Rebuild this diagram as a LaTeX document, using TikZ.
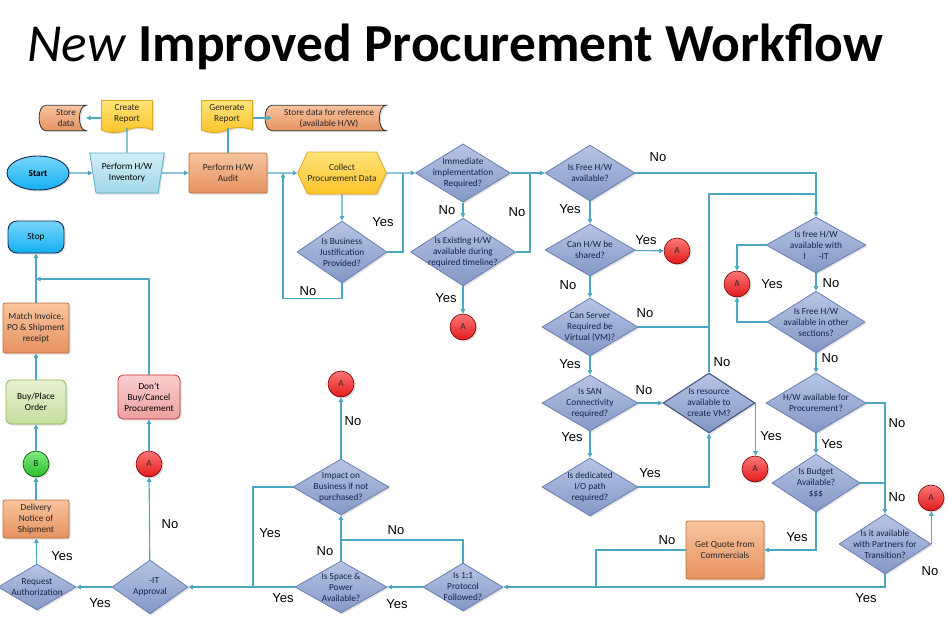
\documentclass[tikz,border=0pt]{standalone}
\usepackage{fontspec}
\setmainfont{Carlito}
\newfontfamily\labelfont{Liberation Sans}
\usetikzlibrary{shapes.geometric,shapes.symbols,arrows.meta,shadows,backgrounds}

\definecolor{lineteal}{RGB}{75,168,192}
\definecolor{diatop}{RGB}{182,196,228}
\definecolor{diabot}{RGB}{132,152,198}
\definecolor{diaedge}{RGB}{105,128,180}
\definecolor{diatext}{RGB}{25,35,75}
\definecolor{orangetop}{RGB}{248,196,158}
\definecolor{orangebot}{RGB}{230,146,96}
\definecolor{orangeedge}{RGB}{188,112,62}
\definecolor{yellowtop}{RGB}{255,228,120}
\definecolor{yellowbot}{RGB}{252,196,40}
\definecolor{yellowedge}{RGB}{222,168,30}
\definecolor{termtop}{RGB}{120,215,252}
\definecolor{termbot}{RGB}{20,175,240}
\definecolor{termedge}{RGB}{20,40,80}
\definecolor{invtop}{RGB}{210,238,246}
\definecolor{invbot}{RGB}{160,214,232}
\definecolor{invedge}{RGB}{90,170,200}
\definecolor{redtop}{RGB}{255,120,120}
\definecolor{redbot}{RGB}{225,25,25}
\definecolor{greentop}{RGB}{130,235,130}
\definecolor{greenbot}{RGB}{40,190,40}
\definecolor{buytop}{RGB}{232,242,210}
\definecolor{buybot}{RGB}{200,222,160}
\definecolor{buyedge}{RGB}{140,180,80}
\definecolor{canceltop}{RGB}{250,206,206}
\definecolor{cancelbot}{RGB}{238,160,160}
\definecolor{canceledge}{RGB}{200,50,50}

\tikzset{
  x=1pt, y=-1pt,
  every node/.style={font=\fontsize{9.3}{11}\selectfont, align=center},
  softshadow/.style={drop shadow={opacity=0.25,shadow xshift=1.5pt,shadow yshift=-1.5pt}},
  conn/.style={draw=lineteal, line width=1.1pt},
  arrow/.style={conn, -{Triangle[length=4.5pt,width=4.5pt]}},
  yn/.style={font=\labelfont\fontsize{13}{13}\selectfont, inner sep=0pt},
  decision/.style 2 args={diamond, draw=diaedge, line width=0.8pt, top color=diatop,
    bottom color=diabot, text=diatext, inner sep=-8pt, minimum width=#1pt,
    minimum height=#2pt, softshadow},
  process/.style 2 args={rectangle, draw=orangeedge, line width=0.8pt, top color=orangetop,
    bottom color=orangebot, rounded corners=2pt, inner sep=1pt, text=black!85,
    minimum width=#1pt, minimum height=#2pt, softshadow},
  report/.style={tape, tape bend top=none, tape bend height=5pt, draw=yellowedge,
    line width=0.8pt, top color=yellowtop, bottom color=yellowbot, text=black!85,
    minimum width=51pt, minimum height=32pt, inner sep=1pt, softshadow},
  storetext/.style={minimum height=25pt, inner sep=1pt, text=black!85},
  storeframe/.style={draw=black!80, line width=0.8pt, top color=orangetop, bottom color=orangebot, softshadow},
  refA/.style={circle, draw=red!45!black, line width=0.6pt, top color=redtop, bottom color=redbot,
    minimum size=26pt, inner sep=0pt, text=black!85, softshadow},
  refB/.style={refA, draw=green!30!black, top color=greentop, bottom color=greenbot},
}

\newcommand{\storedshape}[1]{%
  \begin{scope}[on background layer]
    \path[storeframe] (#1.north west) .. controls +(-9,0) and +(-9,0) .. (#1.south west)
      -- (#1.south east) .. controls +(-9,0) and +(-9,0) .. (#1.north east) -- cycle;
  \end{scope}}

\begin{document}
\begin{tikzpicture}
	\useasboundingbox (0,0) rectangle (950,623);
	\node[anchor=base west, inner sep=0pt, font=\fontsize{53.5}{54}\selectfont] (title) at (27,62)
		{\textit{New} \textbf{Improved Procurement Workflow}};

	% top row
	\node[ellipse, draw=termedge, line width=0.9pt, top color=termtop, bottom color=termbot,
		minimum width=62pt, minimum height=34pt, inner sep=0pt, font=\fontsize{9.3}{11}\bfseries, softshadow] (start) at (38,173) {Start};
	\node[trapezium, shape border rotate=180, trapezium left angle=75, trapezium right angle=75,
		trapezium stretches=true, draw=invedge, line width=0.8pt, top color=invtop, bottom color=invbot,
		minimum width=75pt, minimum height=40pt, inner sep=0pt, softshadow] (inventory) at (127,173) {Perform H/W\\Inventory};
	\node[report] (createrep) at (127,114) {Create\\Report};
	\node[storetext, minimum width=40pt] (storedata) at (66,118) {Store\\data};
	\storedshape{storedata}
	\node[process={78}{40}] (audit) at (228,173) {Perform H/W\\Audit};
	\node[report] (genrep) at (227,114) {Generate\\Report};
	\node[storetext, minimum width=114pt] (storeref) at (329,118) {Store data for reference\\(available H/W)};
	\storedshape{storeref}
	\node[signal, signal to=west and east, signal pointer angle=130, draw=yellowedge, line width=0.8pt,
		top color=yellowtop, bottom color=yellowbot, minimum width=83pt, minimum height=42pt,
		inner sep=0pt, text=black!85, softshadow] (collect) at (342,173) {Collect\\Procurement Data};
	\node[decision={90}{62}] (justify) at (342,252) {Is Business\\Justification\\Provided?};
	\node[decision={95}{56}] (immediate) at (463,173) {Immediate\\implementation\\Required?};
	\node[decision={105}{66}] (existing) at (463,252) {Is Existing H/W\\available during\\required timeline?};
	\node[refA] (aExist) at (463,327) {A};

	% free hardware column
	\node[decision={90}{56}] (freehw) at (590,173) {Is Free H/W\\available?};
	\node[decision={90}{52}] (shared) at (590,250) {Can H/W be\\shared?};
	\node[refA] (aShared) at (677,251) {A};
	\node[decision={96}{58}] (server) at (590,327) {Can Server\\Required be\\Virtual (VM)?};
	\node[decision={96}{56}] (san) at (590,403) {Is SAN\\Connectivity\\required?};
	\node[decision={96}{58}] (iopath) at (590,487) {Is dedicated\\I/O path\\required?};
	\node[decision={92}{60}, draw=diaedge!70!black, line width=1.1pt] (resource) at (709,403) {Is resource\\available to\\create VM?};
	\node[refA] (aResource) at (755,469) {A};

	% right column
	\node[decision={100}{56}] (freeit) at (816,245) {Is free H/W\\available with\\I\hspace{1.4em}-IT};
	\node[refA] (aFreeit) at (737,284) {A};
	\node[decision={98}{56}] (othersec) at (816,322) {Is Free H/W\\available in other\\sections?};
	\node[decision={100}{60}] (procure) at (816,403) {H/W available for\\Procurement?};
	\node[decision={88}{58}] (budget) at (816,483) {Is Budget\\Available?\\\$\$\$};
	\node[refA] (aPartner) at (931,498) {A};
	\node[decision={92}{54}] (partners) at (885,544) {Is it available\\with Partners for\\Transition?};
	\node[process={78}{58}] (quote) at (725,550) {Get Quote from\\Commercials};

	% bottom row
	\node[decision={80}{48}] (protocol) at (463,587) {Is 1:1\\Protocol\\Followed?};
	\node[decision={92}{52}] (space) at (341,587) {Is Space \&\\Power\\Available?};
	\node[decision={96}{56}] (impact) at (341,487) {Impact on\\Business if not\\purchased?};
	\node[refA] (aImpact) at (341,384) {A};
	\node[decision={76}{54}] (approval) at (150,587) {\hspace{0.9em}-IT\\Approval};
	\node[refA] (aApproval) at (149,464) {A};
	\node[rectangle, rounded corners=5pt, draw=canceledge, line width=0.8pt, top color=canceltop,
		bottom color=cancelbot, minimum width=62pt, minimum height=44pt, inner sep=1pt, softshadow] (cancel) at (149,397) {Don't\\Buy/Cancel\\Procurement};
	\node[decision={78}{46}] (request) at (37,587) {Request\\Authorization};
	\node[process={66}{38}] (delivery) at (36,519) {Delivery\\Notice of\\Shipment};
	\node[refB] (bDelivery) at (36,464) {B};
	\node[rectangle, rounded corners=5pt, draw=buyedge, line width=0.8pt, top color=buytop,
		bottom color=buybot, minimum width=60pt, minimum height=44pt, inner sep=1pt, softshadow] (buy) at (36,402) {Buy/Place\\Order};
	\node[process={66}{50}] (match) at (36,328) {Match Invoice,\\PO \& Shipment\\receipt};
	\node[rectangle, rounded corners=9pt, draw=termedge, line width=0.9pt, top color=termtop,
		bottom color=termbot, minimum width=56pt, minimum height=32pt, softshadow] (stop) at (36,237) {Stop};

	% junctions
	\coordinate (loopin) at (283,173);
	\coordinate (yesjoin) at (403,173);
	\coordinate (nojoin) at (530,173);
	\coordinate (topjoin) at (816,194);
	\coordinate (quotejoin) at (596,587);
	\coordinate (spacejoin) at (341,540);
	\coordinate (impactjoin) at (253,587);
	\coordinate (stopjoin) at (36,279);

	% connectors
	\draw[arrow] (start) -- (inventory);
	\draw[arrow] (inventory) -- (audit);
	\draw[conn] (inventory.north) -- (createrep.south);
	\draw[arrow] (createrep.west |- storedata.east) -- (storedata.east);
	\draw[conn] (audit.north |- genrep.south) -- (audit.north);
	\draw[arrow] (genrep.east |- storeref.west) -- (storeref.west);
	\draw[arrow] (audit) -- (collect);
	\draw[arrow] (justify.south) -- ++(0,15) -| (loopin);
	\draw[arrow] (collect) -- (justify);
	\draw[arrow] (collect) -- (immediate);
	\draw[conn] (justify.east) -| (yesjoin);
	\draw[arrow] (immediate) -- (existing);
	\draw[arrow] (immediate) -- (freehw);
	\draw[conn] (existing.east) -| (nojoin);
	\draw[arrow] (existing) -- (aExist);
	\draw[arrow] (freehw.east) -| (freeit.north);
	\draw[arrow] (freehw) -- (shared);
	\draw[arrow] (shared) -- (aShared);
	\draw[arrow] (shared) -- (server);
	\draw[conn] (resource.north) |- (topjoin);
	\draw[conn] (server.east) -- (server.east -| resource.north);
	\draw[arrow] (server) -- (san);
	\draw[arrow] (san) -- (resource);
	\draw[arrow] (san) -- (iopath);
	\draw[arrow] (iopath.east) -| (resource.south);
	\draw[arrow] (resource.east) -- (resource.east |- aResource.north);
	\draw[arrow] (freeit.west) -| (aFreeit.north);
	\draw[arrow] (othersec.west) -| (aFreeit.south);
	\draw[arrow] (freeit) -- (othersec);
	\draw[arrow] (othersec) -- (procure);
	\draw[arrow] (procure.east) -| (partners.north);
	\draw[conn] (budget.east) -- (budget.east -| partners.north);
	\draw[arrow] (procure) -- (budget);
	\draw[arrow] (budget.south) |- (quote.east);
	\draw[arrow] (partners.east) -- (partners.east |- aPartner.south);
	\draw[arrow] (partners.south) |- (protocol.east);
	\draw[conn] (quote.west) -| (quotejoin);
	\draw[arrow] (protocol) -- (space);
	\draw[conn] (protocol.north) |- (spacejoin);
	\draw[arrow] (space) -- (impact);
	\draw[arrow] (impact) -- (aImpact);
	\draw[conn] (impact.west) -| (impactjoin);
	\draw[arrow] (space) -- (approval);
	\draw[arrow] (approval) -- (request);
	\draw[arrow] (approval) -- (aApproval);
	\draw[arrow] (aApproval) -- (cancel);
	\draw[arrow] (cancel.north) |- (stopjoin);
	\draw[arrow] (request) -- (delivery);
	\draw[arrow] (delivery) -- (bDelivery);
	\draw[arrow] (bDelivery) -- (buy);
	\draw[arrow] (buy) -- (match);
	\draw[arrow] (match) -- (stop);

	% yes / no labels
	\node[yn] (l1) at (383,222) {Yes};
	\node[yn] (l2) at (308,291) {No};
	\node[yn] (l3) at (447,210) {No};
	\node[yn] (l4) at (517,212) {No};
	\node[yn] (l5) at (446,298) {Yes};
	\node[yn] (l6) at (658,157) {No};
	\node[yn] (l7) at (570,209) {Yes};
	\node[yn] (l8) at (646,240) {Yes};
	\node[yn] (l9) at (568,285) {No};
	\node[yn] (l10) at (645,313) {No};
	\node[yn] (l11) at (570,364) {Yes};
	\node[yn] (l12) at (644,390) {No};
	\node[yn] (l13) at (722,362) {No};
	\node[yn] (l14) at (572,437) {Yes};
	\node[yn] (l15) at (650,473) {Yes};
	\node[yn] (l16) at (771,436) {Yes};
	\node[yn] (l17) at (772,284) {Yes};
	\node[yn] (l18) at (831,283) {No};
	\node[yn] (l19) at (830,358) {No};
	\node[yn] (l20) at (897,423) {No};
	\node[yn] (l21) at (832,444) {Yes};
	\node[yn] (l22) at (897,497) {No};
	\node[yn] (l23) at (797,537) {Yes};
	\node[yn] (l24) at (930,571) {No};
	\node[yn] (l25) at (866,598) {Yes};
	\node[yn] (l26) at (667,540) {No};
	\node[yn] (l27) at (397,604) {Yes};
	\node[yn] (l28) at (396,530) {No};
	\node[yn] (l29) at (325,551) {No};
	\node[yn] (l30) at (353,421) {No};
	\node[yn] (l31) at (270,533) {Yes};
	\node[yn] (l32) at (283,598) {Yes};
	\node[yn] (l33) at (170,524) {No};
	\node[yn] (l34) at (100,603) {Yes};
	\node[yn] (l35) at (62,556) {Yes};
\end{tikzpicture}
\end{document}
